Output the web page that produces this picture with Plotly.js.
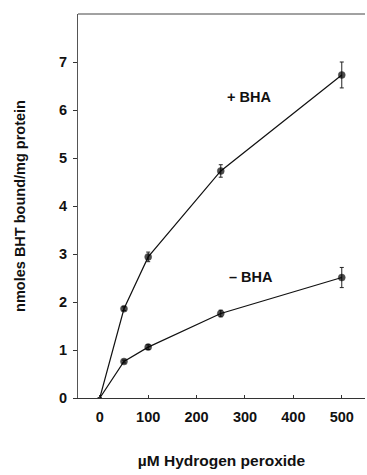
<!DOCTYPE html>
<html><head><meta charset="utf-8">
<script src="https://cdn.plot.ly/plotly-3.0.1.min.js"></script>
<style>html,body{margin:0;padding:0;background:#fff}#c{width:367px;height:475px}</style>
</head><body><div id="c"></div>
<script>
var peroxide = [0, 50, 100, 250, 500];
var plusBHA = [0, 1.86, 2.94, 4.73, 6.73];
var plusErr = [0, 0.04, 0.10, 0.13, 0.27];
var minusBHA = [0, 0.76, 1.06, 1.76, 2.51];
var minusErr = [0, 0.03, 0.05, 0.07, 0.21];
var xTicks = [0, 100, 200, 300, 400, 500];
var yTicks = [0, 1, 2, 3, 4, 5, 6, 7];

function trace(y, e) {
  return {x: peroxide, y: y, type: 'scatter', mode: 'lines+markers',
    line: {color: '#111', width: 1.2},
    marker: {color: '#000', size: [0, 7, 7, 7, 7], line: {color: '#000', width: 0.5}},
    error_y: {type: 'data', array: e, visible: true, color: '#222', thickness: 1, width: 2},
    showlegend: false, cliponaxis: false};
}
var fam = 'Liberation Sans, Arial, sans-serif';
function f(s) { return {family: fam, size: s, color: '#111', weight: 'bold'}; }
var layout = {
  width: 367, height: 475,
  margin: {l: 78, r: 2, t: 14, b: 77},
  paper_bgcolor: '#fff', plot_bgcolor: '#fff',
  font: f(14),
  showlegend: false,
  xaxis: {range: [-45, 548], tickvals: xTicks, ticks: 'inside', ticklen: 3, tickcolor: '#333',
    showgrid: false, zeroline: false, showline: true, linecolor: '#333', linewidth: 1, mirror: false,
    tickfont: f(14.5), ticklabelstandoff: 6,
    title: {text: 'µM Hydrogen peroxide', standoff: 30, font: f(15.5)}},
  yaxis: {range: [0, 8], tickvals: yTicks, ticks: 'outside', ticklen: 4, tickcolor: '#333',
    showgrid: false, zeroline: false, showline: true, linecolor: '#555', linewidth: 1,
    tickfont: f(14.5), ticklabelstandoff: 3,
    title: {text: 'nmoles BHT bound/mg protein', standoff: 29, font: f(14.5)}},
  shapes: [{type: 'line', xref: 'paper', yref: 'paper', x0: 0, x1: 1, y0: 1, y1: 1, line: {color: '#444', width: 1}}],
  annotations: [
    {x: 308, y: 6.27, text: '+ BHA', showarrow: false, font: f(14.5)},
    {x: 312, y: 2.52, text: '– BHA', showarrow: false, font: f(14.5)}
  ]
};
Plotly.newPlot('c', [trace(plusBHA, plusErr), trace(minusBHA, minusErr)], layout, {displayModeBar: false, staticPlot: true});
</script></body></html>
